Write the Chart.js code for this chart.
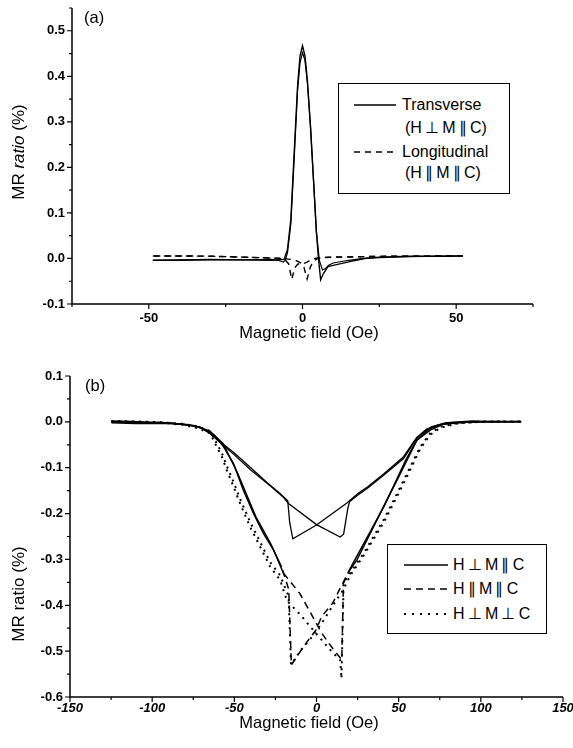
<!DOCTYPE html>
<html>
<head>
<meta charset="utf-8">
<script src="https://cdn.jsdelivr.net/npm/chart.js@4.4.1/dist/chart.umd.min.js"></script>
<style>
  html, body { margin: 0; padding: 0; background: #fff; overflow: hidden; }
  #wrap { position: relative; width: 573px; height: 748px; font-family: "Liberation Sans", Arial, sans-serif; color: #000; }
  canvas { position: absolute; left: 0; }
  .txt { position: absolute; white-space: nowrap; line-height: 1; transform: translate(0, -50%); z-index: 2; }
  .ctr { transform: translate(-50%, -50%); }
  .rot { transform: translate(-50%, -50%) rotate(-90deg); }
  .box { position: absolute; border: 1.5px solid #000; background: #fff; z-index: 1; box-sizing: border-box; }
  svg.sample { position: absolute; z-index: 2; overflow: visible; }
</style>
</head>
<body>
<div id="wrap">
  <canvas id="chartA" width="573" height="345" style="top:0"></canvas>
  <canvas id="chartB" width="573" height="403" style="top:345px"></canvas>

  <!-- panel (a) texts -->
  <div class="txt" style="left:84px;top:17px;font-size:16.5px">(a)</div>
  <div class="txt rot" style="left:18px;top:152px;font-size:17px">MR <i>ratio</i> (%)</div>
  <div class="txt ctr" style="left:309px;top:332px;font-size:16.5px">Magnetic field (Oe)</div>
  <div class="box" style="left:338px;top:83px;width:172px;height:111px"></div>
  <svg class="sample" style="left:354px;top:104px" width="42" height="2"><line x1="0" y1="1" x2="42" y2="1" stroke="#000" stroke-width="1.4"/></svg>
  <div class="txt" style="left:402px;top:105px;font-size:16px">Transverse</div>
  <div class="txt" style="left:405px;top:128px;font-size:16px">(H&#8201;&#8869;&#8201;M&#8201;&#8741;&#8201;C)</div>
  <svg class="sample" style="left:354px;top:151px" width="42" height="2"><line x1="0" y1="1" x2="42" y2="1" stroke="#000" stroke-width="1.4" stroke-dasharray="6 5"/></svg>
  <div class="txt" style="left:402px;top:152px;font-size:16px">Longitudinal</div>
  <div class="txt" style="left:405px;top:173px;font-size:16px">(H&#8201;&#8741;&#8201;M&#8201;&#8741;&#8201;C)</div>

  <!-- panel (b) texts -->
  <div class="txt" style="left:85px;top:385px;font-size:16.5px">(b)</div>
  <div class="txt rot" style="left:18px;top:594px;font-size:17px">MR ratio (%)</div>
  <div class="txt ctr" style="left:309px;top:722px;font-size:16.5px">Magnetic field (Oe)</div>
  <div class="box" style="left:387px;top:544px;width:160px;height:90px"></div>
  <svg class="sample" style="left:404px;top:564px" width="44" height="2"><line x1="0" y1="1" x2="44" y2="1" stroke="#000" stroke-width="1.4"/></svg>
  <div class="txt" style="left:453px;top:565px;font-size:16px">H&#8201;&#8869;&#8201;M&#8201;&#8741;&#8201;C</div>
  <svg class="sample" style="left:404px;top:588px" width="44" height="2"><line x1="0" y1="1" x2="44" y2="1" stroke="#000" stroke-width="1.5" stroke-dasharray="7 5"/></svg>
  <div class="txt" style="left:453px;top:589px;font-size:16px">H&#8201;&#8741;&#8201;M&#8201;&#8741;&#8201;C</div>
  <svg class="sample" style="left:404px;top:613px" width="44" height="2"><line x1="0" y1="1" x2="44" y2="1" stroke="#000" stroke-width="2" stroke-dasharray="2 6"/></svg>
  <div class="txt" style="left:453px;top:614px;font-size:16px">H&#8201;&#8869;&#8201;M&#8201;&#8869;&#8201;C</div>
</div>

<script>
// ---- panel (a) data ----
const FIELD_TR_UP = [-48.7, -40, -30, -20, -10, -6, -4.9, -3.8, -2.7, -1.6, -0.8, 0, 0.8, 1.6, 2.6, 3.6, 4.5, 5.2, 5.9, 6.8, 8.3, 10.7, 15.4, 20.2, 25, 35, 45, 52.2];
const MR_TR_UP    = [-0.004, -0.004, -0.003, -0.003, -0.004, -0.002, 0.019, 0.085, 0.232, 0.379, 0.445, 0.467, 0.445, 0.39, 0.29, 0.17, 0.06, 0.0, -0.047, -0.033, -0.018, -0.014, -0.007, 0.0, 0.003, 0.005, 0.005, 0.0055];
const FIELD_TR_DN = [52.2, 45, 35, 25, 20, 15, 10, 8.5, 7.5, 6.5, 5.5, 4.5, 3.6, 2.6, 1.6, 0.8, 0, -0.8, -1.6, -2.7, -3.8, -4.9, -5.6, -6.2, -8, -10, -20, -30, -40, -48.7];
const MR_TR_DN    = [0.0055, 0.005, 0.004, 0.002, 0.0, -0.004, -0.01, -0.015, -0.022, -0.025, -0.005, 0.06, 0.17, 0.29, 0.385, 0.435, 0.452, 0.43, 0.37, 0.22, 0.075, 0.012, -0.004, -0.008, -0.004, -0.002, -0.003, -0.002, -0.003, -0.004];
const FIELD_LO_UP = [-48.7, -40, -30, -25, -20, -10, -6, -4, -2, -0.5, 0.5, 1.5, 2.5, 3.5, 5, 7, 10, 15, 20, 30, 40, 52.2];
const MR_LO_UP    = [0.0055, 0.0055, 0.005, 0.004, 0.003, 0.001, 0.0, -0.002, -0.005, -0.01, -0.02, -0.045, -0.02, -0.006, 0.0, 0.002, 0.003, 0.003, 0.004, 0.005, 0.005, 0.006];
const FIELD_LO_DN = [52.2, 40, 30, 20, 10, 6, 4, 2.5, 1.5, 0, -1.5, -2.5, -3.5, -4.5, -6, -10, -20, -30, -40, -48.7];
const MR_LO_DN    = [0.006, 0.005, 0.005, 0.004, 0.003, 0.002, 0.0, -0.004, -0.008, -0.012, -0.012, -0.02, -0.046, -0.012, 0.0, 0.001, 0.003, 0.005, 0.0055, 0.0055];

const X_TICKS_A = [-50, 0, 50];
const X_MINOR_A = [-75, -25, 25, 75];
const Y_TICKS_A = [-0.1, 0.0, 0.1, 0.2, 0.3, 0.4, 0.5];
const Y_MINOR_A = [-0.05, 0.05, 0.15, 0.25, 0.35, 0.45, 0.55];

// ---- panel (b) data ----
const FIELD_S_UP = [-124.8, -110, -95, -85, -78, -71, -65, -58, -50, -40, -28, -20, -17, 0, 14.4, 16.5, 19, 20.1, 25, 31, 41, 53, 61, 67, 75, 82, 95, 110, 124.5];
const MR_S_UP    = [-0.002, -0.004, -0.003, -0.004, -0.007, -0.011, -0.025, -0.047, -0.072, -0.105, -0.14, -0.165, -0.178, -0.224, -0.251, -0.245, -0.19, -0.174, -0.16, -0.145, -0.116, -0.08, -0.036, -0.018, -0.007, -0.002, 0.0, 0.001, 0.0];
const FIELD_S_DN = [124.5, 110, 95, 82, 75, 67, 61, 53, 41, 31, 25, 18.5, 0, -14.4, -16.3, -17.5, -22, -30, -40, -50, -58, -65, -71, -78, -88, -100, -112, -124.8];
const MR_S_DN    = [0.001, 0.0, 0.002, -0.001, -0.006, -0.016, -0.034, -0.076, -0.113, -0.142, -0.157, -0.177, -0.225, -0.255, -0.22, -0.172, -0.157, -0.133, -0.1, -0.068, -0.045, -0.024, -0.012, -0.006, -0.003, -0.001, 0.001, 0.002];

const FIELD_D_UP = [-124.8, -110, -95, -80, -70, -62, -56.6, -50.5, -44.5, -38.4, -32.3, -26.2, -20.1, -10.2, -3.5, 3.2, 9, 15.4, 16.4, 20, 24.6, 32.7, 40.8, 49, 57.1, 61.1, 69.2, 77.3, 90, 105, 124.5];
const MR_D_UP    = [0.0, -0.002, -0.001, -0.006, -0.013, -0.03, -0.054, -0.091, -0.149, -0.199, -0.243, -0.279, -0.33, -0.374, -0.417, -0.461, -0.49, -0.519, -0.352, -0.325, -0.301, -0.243, -0.185, -0.127, -0.069, -0.04, -0.018, -0.005, -0.001, 0.0, 0.001];
const FIELD_D_DN = [124.5, 105, 90, 78.8, 69.9, 61, 54.4, 47.7, 41, 29.9, 21, 15.4, 9.9, 3.2, -0.2, -7.9, -15.3, -16.9, -21.3, -28, -36.9, -48, -56.9, -65, -75, -90, -110, -124.8];
const MR_D_DN    = [0.0, 0.001, -0.001, -0.002, -0.011, -0.04, -0.083, -0.134, -0.185, -0.258, -0.316, -0.356, -0.395, -0.424, -0.453, -0.49, -0.53, -0.365, -0.316, -0.265, -0.207, -0.112, -0.047, -0.02, -0.008, -0.003, -0.001, 0.0];

const FIELD_P_UP = [-124.8, -110, -95, -82, -72, -64.7, -61.7, -57.6, -54.6, -50.5, -46.5, -40.4, -34.3, -28.2, -22.1, -18, -10, -3, 3, 9, 14.5, 15.2, 16.5, 20.5, 28.6, 40.8, 49, 57.1, 63.2, 69.2, 75.3, 85, 100, 124.5];
const MR_P_UP    = [0.002, 0.0, -0.002, -0.006, -0.014, -0.025, -0.047, -0.076, -0.105, -0.141, -0.178, -0.229, -0.272, -0.316, -0.345, -0.39, -0.42, -0.45, -0.475, -0.5, -0.52, -0.56, -0.35, -0.33, -0.287, -0.214, -0.156, -0.098, -0.054, -0.025, -0.011, -0.003, 0.0, 0.001];
const FIELD_P_DN = [124.5, 100, 85, 75.3, 69.2, 63.2, 57.1, 49, 40.8, 28.6, 20.5, 16.5, 10, 3, -3, -10, -15.5, -17, -22.1, -28.2, -34.3, -40.4, -46.5, -50.5, -54.6, -57.6, -61.7, -64.7, -72, -82, -95, -110, -124.8];
const MR_P_DN    = [0.0, 0.001, -0.004, -0.013, -0.028, -0.058, -0.104, -0.163, -0.22, -0.292, -0.335, -0.365, -0.4, -0.44, -0.47, -0.5, -0.53, -0.38, -0.335, -0.306, -0.262, -0.218, -0.168, -0.131, -0.096, -0.068, -0.04, -0.02, -0.01, -0.004, -0.001, 0.001, 0.001];

const X_TICKS_B = [-150, -100, -50, 0, 50, 100, 150];
const X_MINOR_B = [-125, -75, -25, 25, 75, 125];
const Y_TICKS_B = [-0.6, -0.5, -0.4, -0.3, -0.2, -0.1, 0.0, 0.1];
const Y_MINOR_B = [-0.55, -0.45, -0.35, -0.25, -0.15, -0.05, 0.05];

const pts = (xs, ys) => xs.map((x, i) => ({ x, y: ys[i] }));

// axis lines + outward tick marks (major / minor), placed by the chart's own scales
const axisTicks = {
  id: 'axisTicks',
  afterDraw(chart, args, opts) {
    const { ctx, chartArea: a, scales: { x, y } } = chart;
    ctx.save();
    ctx.strokeStyle = '#000';
    ctx.lineWidth = 1.5;
    ctx.beginPath();
    ctx.moveTo(a.left, a.top);
    ctx.lineTo(a.left, a.bottom);
    ctx.lineTo(a.right, a.bottom);
    ctx.stroke();
    ctx.lineWidth = 1.2;
    ctx.beginPath();
    opts.xMajor.forEach(v => { const p = x.getPixelForValue(v); ctx.moveTo(p, a.bottom); ctx.lineTo(p, a.bottom + 5); });
    opts.xMinor.forEach(v => { const p = x.getPixelForValue(v); ctx.moveTo(p, a.bottom); ctx.lineTo(p, a.bottom + 3); });
    opts.yMajor.forEach(v => { const p = y.getPixelForValue(v); ctx.moveTo(a.left, p); ctx.lineTo(a.left - 5, p); });
    opts.yMinor.forEach(v => { const p = y.getPixelForValue(v); ctx.moveTo(a.left, p); ctx.lineTo(a.left - 3, p); });
    ctx.stroke();
    ctx.restore();
  }
};

function scaleOpts(min, max, ticks, width, fmt, font, padding) {
  return {
    type: 'linear', min, max,
    grid: { display: false, drawTicks: false },
    border: { display: false },
    afterBuildTicks: s => { s.ticks = ticks.map(v => ({ value: v })); },
    afterFit: s => {
      if (s.isHorizontal()) { s.height = width; s.paddingLeft = 0; s.paddingRight = 0; }
      else { s.width = width; s.paddingTop = 0; s.paddingBottom = 0; }
    },
    ticks: { autoSkip: false, maxRotation: 0, color: '#000', padding, font, callback: fmt }
  };
}

const base = { borderColor: '#000', pointRadius: 0, fill: false, tension: 0 };

new Chart(document.getElementById('chartA'), {
  type: 'line',
  data: {
    datasets: [
      { ...base, data: pts(FIELD_TR_UP, MR_TR_UP), borderWidth: 1.4 },
      { ...base, data: pts(FIELD_TR_DN, MR_TR_DN), borderWidth: 1.2 },
      { ...base, data: pts(FIELD_LO_UP, MR_LO_UP), borderWidth: 1.4, borderDash: [6, 5] },
      { ...base, data: pts(FIELD_LO_DN, MR_LO_DN), borderWidth: 1.4, borderDash: [6, 5] }
    ]
  },
  options: {
    responsive: false,
    animation: false,
    layout: { padding: { top: 8, right: 40, left: 0, bottom: 0 } },
    plugins: {
      legend: { display: false },
      tooltip: { enabled: false },
      axisTicks: { xMajor: X_TICKS_A, xMinor: X_MINOR_A, yMajor: Y_TICKS_A, yMinor: Y_MINOR_A }
    },
    scales: {
      x: scaleOpts(-75, 75, X_TICKS_A, 41, v => String(v), { family: 'Liberation Sans', size: 13, weight: 'bold' }, 7),
      y: scaleOpts(-0.1, 0.55, Y_TICKS_A, 72, v => v.toFixed(1), { family: 'Liberation Sans', size: 13, weight: 'bold' }, 7)
    }
  },
  plugins: [axisTicks]
});

// the dashed curve reads as solid where its points are dense (outer flanks)
const denseSolid = c => (Math.abs(c.p0.parsed.x) > 19 && Math.abs(c.p1.parsed.x) > 19) ? [] : [7, 5];

new Chart(document.getElementById('chartB'), {
  type: 'line',
  data: {
    datasets: [
      { ...base, data: pts(FIELD_S_UP, MR_S_UP), borderWidth: 1.3 },
      { ...base, data: pts(FIELD_S_DN, MR_S_DN), borderWidth: 1.3 },
      { ...base, data: pts(FIELD_D_UP, MR_D_UP), borderWidth: 1.5, borderDash: [7, 5], segment: { borderDash: denseSolid } },
      { ...base, data: pts(FIELD_D_DN, MR_D_DN), borderWidth: 1.5, borderDash: [7, 5], segment: { borderDash: denseSolid } },
      { ...base, data: pts(FIELD_P_UP, MR_P_UP), borderWidth: 2, borderDash: [2, 5] },
      { ...base, data: pts(FIELD_P_DN, MR_P_DN), borderWidth: 2, borderDash: [2, 5] }
    ]
  },
  options: {
    responsive: false,
    animation: false,
    layout: { padding: { top: 31, right: 10, left: 0, bottom: 0 } },
    plugins: {
      legend: { display: false },
      tooltip: { enabled: false },
      axisTicks: { xMajor: X_TICKS_B, xMinor: X_MINOR_B, yMajor: Y_TICKS_B, yMinor: Y_MINOR_B }
    },
    scales: {
      x: scaleOpts(-150, 150, X_TICKS_B, 51, v => String(v), { family: 'Liberation Sans', size: 13, weight: 'bold', style: 'italic' }, 4),
      y: scaleOpts(-0.6, 0.1, Y_TICKS_B, 70, v => v.toFixed(1), { family: 'Liberation Sans', size: 13, weight: 'bold' }, 7)
    }
  },
  plugins: [axisTicks]
});
</script>
</body>
</html>
